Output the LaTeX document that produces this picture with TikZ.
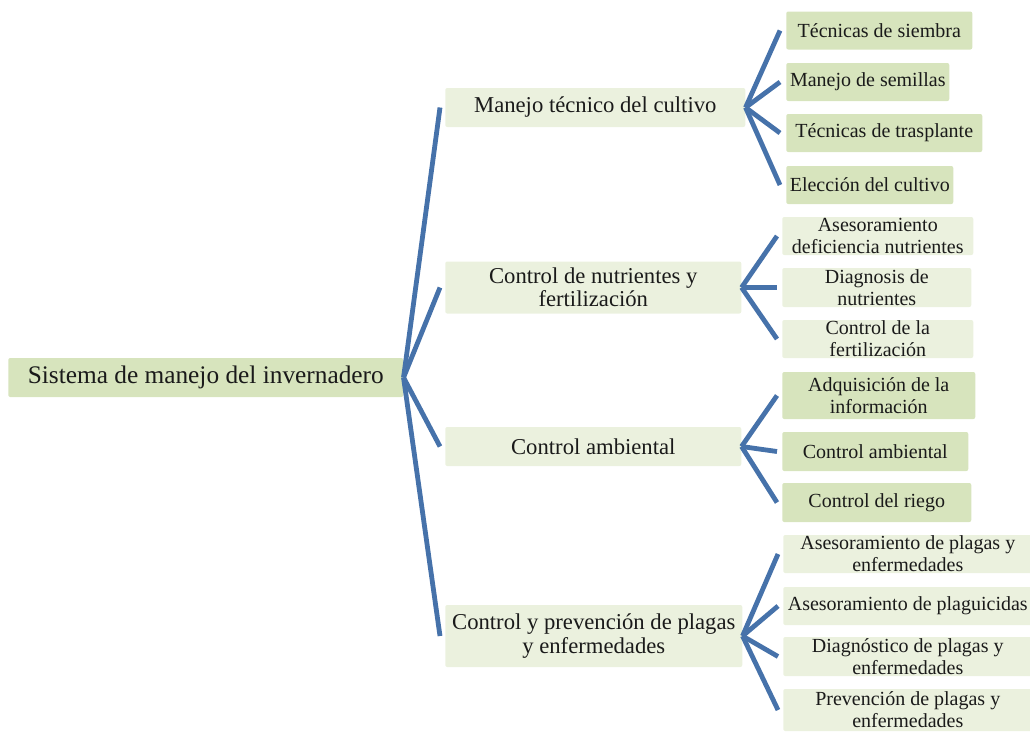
\documentclass[tikz,border=0pt]{standalone}
\usepackage{fontspec}
\setmainfont{Liberation Serif}
\usepackage{tikz}
\usetikzlibrary{positioning}
\definecolor{linkblue}{HTML}{4672AA}
\definecolor{boxdark}{HTML}{D7E4BD}
\definecolor{boxlight}{HTML}{EBF1DE}
\definecolor{txt}{HTML}{1A1A1A}

\begin{document}
\begin{tikzpicture}[
  x=0.75pt, y=-0.75pt,
  box/.style={rectangle, rounded corners=1.5pt, inner sep=0pt, align=center,
              text=txt, anchor=west},
  rt/.style={box, fill=boxdark, font=\fontsize{19}{20}\selectfont,
             minimum width=296.25pt, minimum height=29.25pt},
  br/.style={box, fill=boxlight, font=\fontsize{17}{17.5}\selectfont},
  lfd/.style={box, fill=boxdark, font=\fontsize{15}{16.5}\selectfont},
  lfl/.style={box, fill=boxlight, font=\fontsize{15}{16.5}\selectfont},
  link/.style={draw=linkblue, line width=3.6pt}]
  \useasboundingbox (0,0) rectangle (1030,733);
  \node[rt] (root) at (8, 377.5) {Sistema de manejo del invernadero};
  \node[br, minimum width=225pt, minimum height=29.25pt] (cult) at (445, 107.5)
      {Manejo técnico del cultivo};
  \node[br, minimum width=222pt, minimum height=39pt] (nutr) at (445, 287.5)
      {Control de nutrientes y\\fertilización};
  \node[br, minimum width=222pt, minimum height=29.25pt] (amb) at (445, 446.5)
      {Control ambiental};
  \node[br, minimum width=222.75pt, minimum height=46.5pt] (plag) at (445, 636)
      {Control y prevención de plagas\\y enfermedades};
  \node[lfd, minimum width=139.5pt, minimum height=28.5pt] (siem) at (786, 30.5)
      {Técnicas de siembra};
  \node[lfd, minimum width=122.25pt, minimum height=28.5pt] (semi) at (786, 82)
      {Manejo de semillas};
  \node[lfd, minimum width=147pt, minimum height=28.5pt] (tras) at (786, 133)
      {Técnicas de trasplante};
  \node[lfd, minimum width=125.25pt, minimum height=28.5pt] (elec) at (786, 185)
      {Elección del cultivo};
  \node[lfl, minimum width=143.25pt, minimum height=28.5pt] (ases) at (782, 236)
      {Asesoramiento\\deficiencia nutrientes};
  \node[lfl, minimum width=141.75pt, minimum height=29.25pt] (diag) at (782, 287.5)
      {Diagnosis de\\nutrientes};
  \node[lfl, minimum width=143.25pt, minimum height=28.5pt] (fert) at (782, 339)
      {Control de la\\fertilización};
  \node[lfd, minimum width=144.75pt, minimum height=35.25pt] (adqu) at (782, 395.5)
      {Adquisición de la\\información};
  \node[lfd, minimum width=139.5pt, minimum height=29.25pt] (camb) at (782, 451.5)
      {Control ambiental};
  \node[lfd, minimum width=141.75pt, minimum height=29.25pt] (rieg) at (782, 502.5)
      {Control del riego};
  \node[lfl, minimum width=186.75pt, minimum height=28.5pt] (aspl) at (783, 554)
      {Asesoramiento de plagas y\\enfermedades};
  \node[lfl, minimum width=186.75pt, minimum height=28.5pt] (aspg) at (783, 606)
      {Asesoramiento de plaguicidas};
  \node[lfl, minimum width=186.75pt, minimum height=29.25pt] (dipl) at (783, 656.5)
      {Diagnóstico de plagas y\\enfermedades};
  \node[lfl, minimum width=186.75pt, minimum height=31.5pt] (prev) at (783, 710)
      {Prevención de plagas y\\enfermedades};
  \foreach \m in {cult, nutr, amb, plag}
    \draw[link] (root.east) -- ([xshift=-3.75pt]\m.west);
  \foreach \l in {siem, semi, tras, elec}
    \draw[link] (cult.east) -- ([xshift=-4.5pt]\l.west);
  \foreach \l in {ases, diag, fert}
    \draw[link] (nutr.east) -- ([xshift=-3.75pt]\l.west);
  \foreach \l in {adqu, camb, rieg}
    \draw[link] (amb.east) -- ([xshift=-3.75pt]\l.west);
  \foreach \l in {aspl, aspg, dipl, prev}
    \draw[link] (plag.east) -- ([xshift=-3.75pt]\l.west);
\end{tikzpicture}
\end{document}
